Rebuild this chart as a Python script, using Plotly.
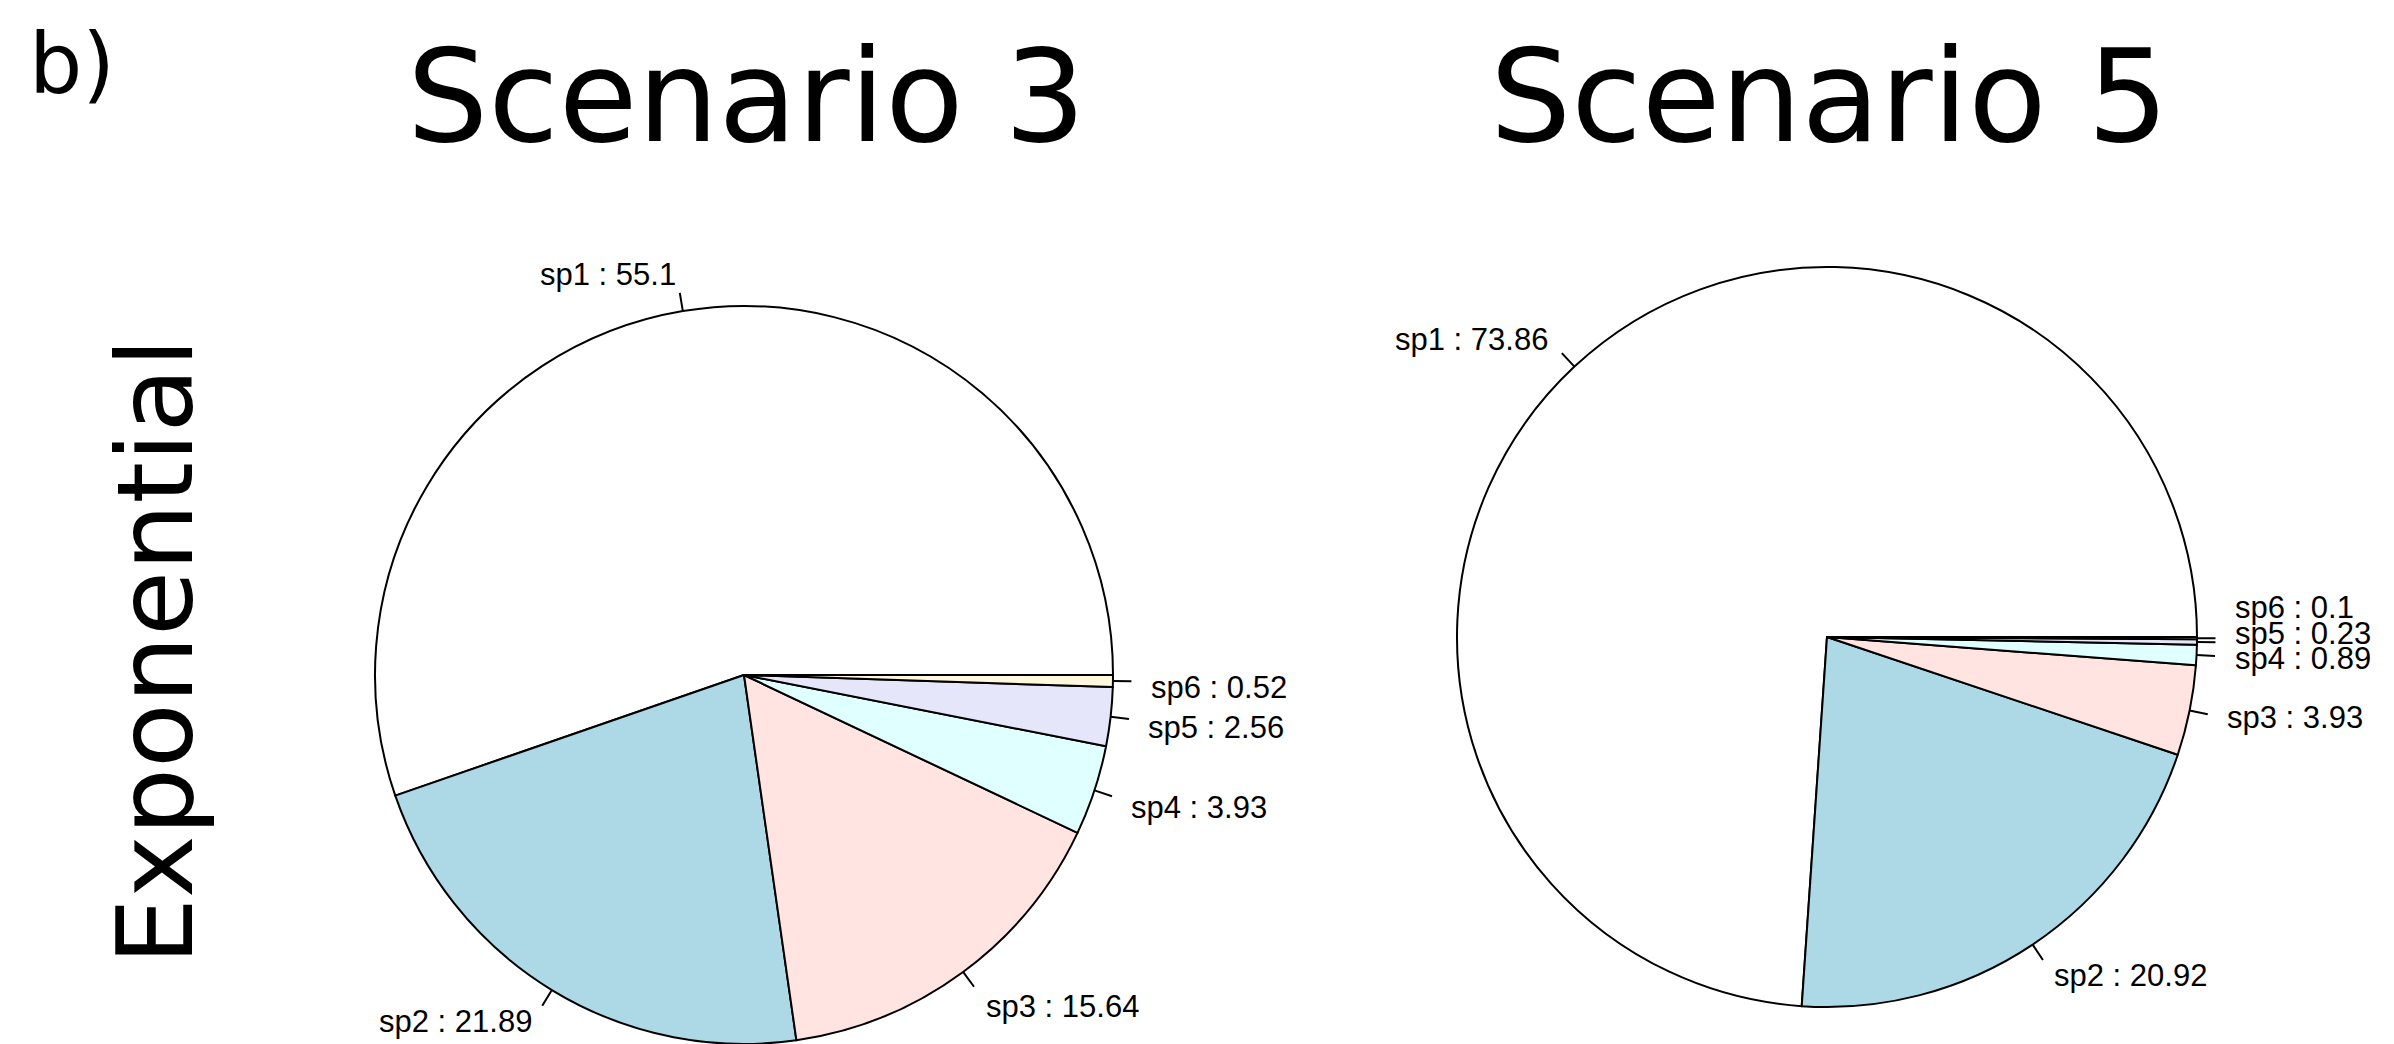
import math
import plotly.graph_objects as go

W, H = 2394, 1044

species = ["sp1", "sp2", "sp3", "sp4", "sp5", "sp6"]
scenario3_values = [55.1, 21.89, 15.64, 3.93, 2.56, 0.52]
scenario5_values = [73.86, 20.92, 3.93, 0.89, 0.23, 0.1]
slice_colors = ["#FFFFFF", "#ADD8E6", "#FFE4E1", "#E0FFFF", "#E6E6FA", "#FFF8DC"]
panel_titles = ["Scenario 3", "Scenario 5"]
row_title = "Exponential"
panel_tag = "b)"

# layout (pixels): pie centres, radii, label nudges (style only)
pies = [
    dict(values=scenario3_values, cx=744, cy=675, r=369, dy=[0, 0, 5, 6, 7, 6]),
    dict(values=scenario5_values, cx=1827, cy=637, r=370, dy=[0, 0, 0, 2, -9, -31]),
]

def px(x):
    return x / W

def py(y):
    return 1 - y / H

fig = go.Figure()
annotations = []
shapes = []
label_font = dict(family="Liberation Sans, Arial, sans-serif", size=31, color="black")

for p, title in zip(pies, panel_titles):
    cx, cy, r = p["cx"], p["cy"], p["r"]
    vals = p["values"]
    tot = sum(vals)
    # plotly (counterclockwise) puts the boundary between slice 1 and slice 2
    # at `rotation`; R starts slice 1 at 3 o'clock and goes counterclockwise.
    rot = 90 - 360 * vals[0] / tot
    fig.add_trace(go.Pie(
        labels=species, values=vals, sort=False, direction="counterclockwise",
        rotation=rot, textinfo="none", hoverinfo="label+value",
        marker=dict(colors=slice_colors, line=dict(color="black", width=2)),
        domain=dict(x=[px(cx - r), px(cx + r)], y=[py(cy + r), py(cy - r)]),
        showlegend=False,
    ))
    cum = 0.0
    for name, v, dy in zip(species, vals, p["dy"]):
        a0 = 2 * math.pi * cum / tot
        cum += v
        a1 = 2 * math.pi * cum / tot
        m = (a0 + a1) / 2
        c, s = math.cos(m), math.sin(m)
        shapes.append(dict(type="line", xref="paper", yref="paper",
                           x0=px(cx + r * c), y0=py(cy - r * s),
                           x1=px(cx + 1.05 * r * c), y1=py(cy - 1.05 * r * s),
                           line=dict(color="black", width=2), layer="above"))
        annotations.append(dict(
            x=px(cx + 1.1 * r * c), y=py(cy - 1.1 * r * s + dy),
            xref="paper", yref="paper", text=f"{name} : {v}", showarrow=False,
            xanchor="left" if c >= 0 else "right", yanchor="middle",
            font=label_font, borderpad=0))
    annotations.append(dict(
        x=px(cx + 2), y=py(96), xref="paper", yref="paper", text=title,
        showarrow=False, xanchor="center", yanchor="middle",
        font=dict(family="DejaVu Sans", size=128, color="black")))

annotations.append(dict(
    x=px(155), y=py(652), xref="paper", yref="paper", text=row_title,
    showarrow=False, textangle=-90, xanchor="center", yanchor="middle",
    font=dict(family="DejaVu Sans", size=106, color="black")))
annotations.append(dict(
    x=px(72), y=py(64), xref="paper", yref="paper", text=panel_tag,
    showarrow=False, xanchor="center", yanchor="middle",
    font=dict(family="DejaVu Sans", size=84, color="black")))

fig.update_layout(
    width=W, height=H, margin=dict(l=0, r=0, t=0, b=0),
    paper_bgcolor="white", plot_bgcolor="white",
    annotations=annotations, shapes=shapes,
)

fig.write_html("out.html", config={"displayModeBar": False},
               post_script="document.body.style.margin='0';")
